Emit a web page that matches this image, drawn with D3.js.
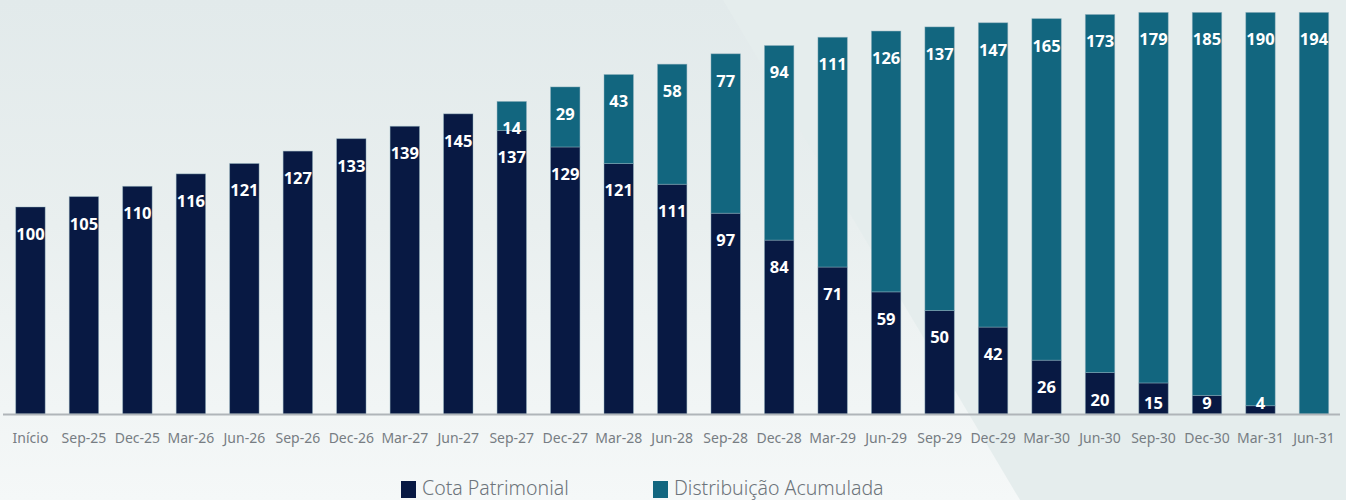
<!DOCTYPE html>
<html>
<head>
<meta charset="utf-8">
<script src="https://cdn.jsdelivr.net/npm/d3@7"></script>
<style>
  html, body { margin: 0; padding: 0; }
  body { width: 1346px; height: 500px; overflow: hidden; }
</style>
</head>
<body>
<svg id="chart"></svg>
<script>
const categories = ['Início', 'Sep-25', 'Dec-25', 'Mar-26', 'Jun-26', 'Sep-26', 'Dec-26', 'Mar-27', 'Jun-27',
  'Sep-27', 'Dec-27', 'Mar-28', 'Jun-28', 'Sep-28', 'Dec-28', 'Mar-29', 'Jun-29', 'Sep-29', 'Dec-29',
  'Mar-30', 'Jun-30', 'Sep-30', 'Dec-30', 'Mar-31', 'Jun-31'];
const cotaPatrimonial = [100, 105, 110, 116, 121, 127, 133, 139, 145, 137, 129, 121, 111, 97, 84, 71, 59, 50, 42, 26, 20, 15, 9, 4, 0];
const distribuicao = [0, 0, 0, 0, 0, 0, 0, 0, 0, 14, 29, 43, 58, 77, 94, 111, 126, 137, 147, 165, 173, 179, 185, 190, 194];
const seriesNames = ['Cota Patrimonial', 'Distribuição Acumulada'];

const width = 1346, height = 500;
const baseY = 414;
const navy = '#081943', teal = '#12667f';

const svg = d3.select('#chart')
  .attr('width', width)
  .attr('height', height);

// background
const defs = svg.append('defs');
const grad = defs.append('linearGradient').attr('id', 'bg').attr('x1', 0).attr('y1', 0).attr('x2', 0).attr('y2', 1);
grad.append('stop').attr('offset', '0%').attr('stop-color', '#e2eaeb');
grad.append('stop').attr('offset', '45%').attr('stop-color', '#e9efef');
grad.append('stop').attr('offset', '100%').attr('stop-color', '#f5f8f8');
svg.append('rect').attr('width', width).attr('height', height).attr('fill', 'url(#bg)');
svg.append('path')
  .attr('d', 'M723,0 L1346,0 L1346,500 L1020,500 Z')
  .attr('fill', '#e5eded');

const x = d3.scaleBand()
  .domain(categories)
  .range([3.7, 1340.7])
  .paddingInner(0.45)
  .paddingOuter(0.225);

const y = d3.scaleLinear()
  .domain([0, 200])
  .range([baseY, baseY - 414]);

const rows = categories.map((c, i) => ({ cat: c, cota: cotaPatrimonial[i], dist: distribuicao[i] }));
const stack = d3.stack().keys(['cota', 'dist'])(rows);
const color = d3.scaleOrdinal().domain(['cota', 'dist']).range([navy, teal]);

svg.append('g').selectAll('g')
  .data(stack)
  .join('g')
  .attr('fill', (d) => color(d.key))
  .selectAll('rect')
  .data((d) => d.filter((s) => s[1] - s[0] > 0))
  .join('rect')
  .attr('x', (d) => x(d.data.cat))
  .attr('width', x.bandwidth())
  .attr('y', (d) => y(d[1]))
  .attr('height', (d) => y(d[0]) - y(d[1]))
  .attr('stroke', '#8fb0bd')
  .attr('stroke-opacity', 0.55)
  .attr('stroke-width', 0.8);

// value labels (inside end, kept above the baseline for small segments)
const segs = stack.flatMap((layer) => layer.filter((s) => s[1] - s[0] > 0).map((s) => ({ s, v: s[1] - s[0] })));
svg.append('g').selectAll('text')
  .data(segs)
  .join('text')
  .attr('x', (d) => x(d.s.data.cat) + x.bandwidth() / 2)
  .attr('y', (d) => Math.min(y(d.s[1]) + 27, baseY - 11))
  .attr('dy', '0.36em')
  .attr('text-anchor', 'middle')
  .attr('fill', '#ffffff')
  .style('font-family', 'Noto Sans, sans-serif')
  .style('font-weight', 700)
  .style('font-size', '16.5px')
  .text((d) => d.v);

// axis
const xAxis = svg.append('g')
  .attr('transform', `translate(0,${baseY})`)
  .call(d3.axisBottom(x).tickSize(0).tickPadding(19));
xAxis.select('.domain').attr('d', 'M3,0.5H1340').attr('stroke', '#b0b5b9').attr('stroke-width', 1.8);
xAxis.selectAll('text')
  .attr('fill', '#777d83')
  .style('font-family', 'Noto Sans, sans-serif')
  .style('font-size', '14px');

// legend
const legend = svg.append('g').attr('transform', 'translate(401,481)');
const legendX = [0, 252];
seriesNames.forEach((name, i) => {
  const g = legend.append('g').attr('transform', `translate(${legendX[i]},0)`);
  g.append('rect').attr('width', 15).attr('height', 17).attr('fill', i === 0 ? navy : teal);
  g.append('text').attr('x', 21).attr('y', 14)
    .attr('fill', '#6d747b')
    .style('font-family', 'Noto Sans, sans-serif')
    .style('font-weight', 300)
    .style('font-size', '19.5px')
    .text(name);
});
</script>
</body>
</html>
